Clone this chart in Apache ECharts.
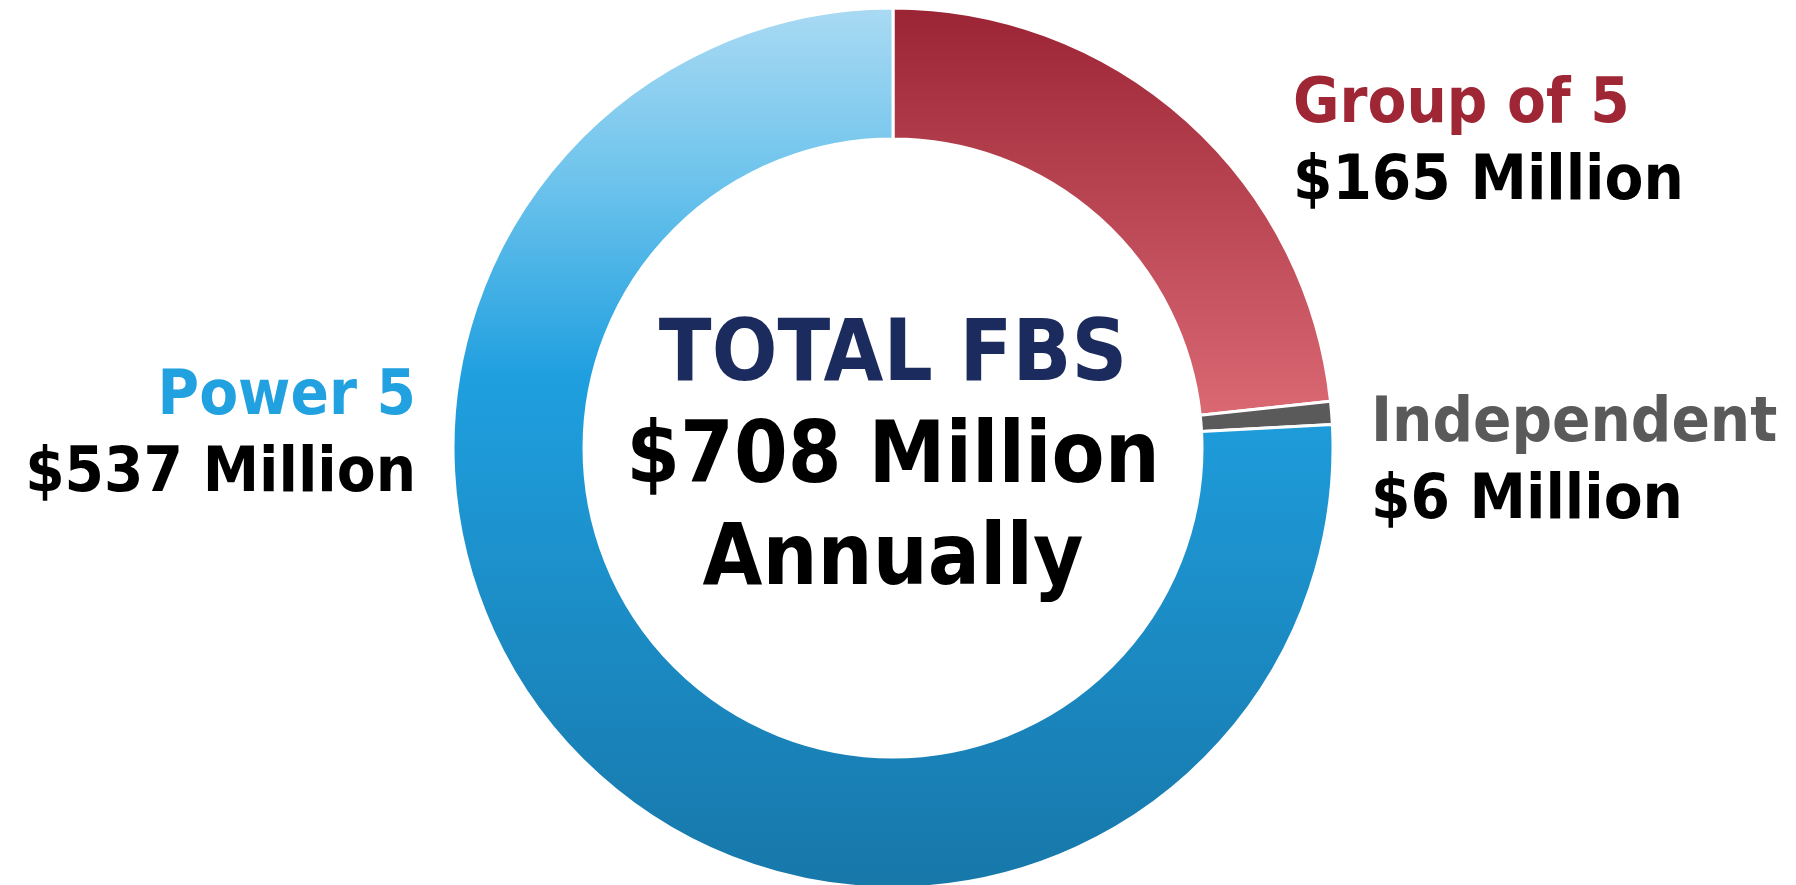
<!DOCTYPE html>
<html>
<head>
<meta charset="utf-8">
<script src="https://cdn.jsdelivr.net/npm/echarts@6/dist/echarts.min.js"></script>
<style>
html,body{margin:0;padding:0;background:#fff;}
#chart{width:1796px;height:885px;}
</style>
</head>
<body>
<div id="chart"></div>
<script>
// ---- Data ----
const categories = ['Group of 5', 'Independent', 'Power 5'];
const values = [165, 6, 537];           // $ Million annually
const totalLabel = 'TOTAL FBS';
const totalValue = 708;                  // $ Million annually
const totalSuffix = 'Annually';

// ---- Styles ----
const FONT = '"DejaVu Sans Condensed", "DejaVu Sans", sans-serif';
const sliceColors = [
  new echarts.graphic.LinearGradient(0, 0, 0, 1, [
    {offset: 0, color: '#9B2434'}, {offset: 1, color: '#DA6974'}
  ]),
  '#5A5A5A',
  new echarts.graphic.LinearGradient(0, 0, 0, 1, [
    {offset: 0, color: '#AADAF3'}, {offset: 0.2, color: '#6CC3EC'},
    {offset: 0.42, color: '#1F9FDF'}, {offset: 1, color: '#1777A9'}
  ])
];
const labelColors = ['#9E2635', '#5A5A5A', '#22A1E1'];
const labelPos = [
  {x: 1293, y: 106, align: 'left'},
  {x: 1371, y: 425, align: 'left'},
  {x: 416, y: 398, align: 'right'}
];

const chart = echarts.init(document.getElementById('chart'), null, {renderer: 'canvas'});

const graphics = [];
categories.forEach((name, i) => {
  const p = labelPos[i];
  graphics.push({
    type: 'text', x: p.x, y: p.y,
    style: {text: name, fill: labelColors[i], font: 'bold 63px ' + FONT,
            textAlign: p.align, textVerticalAlign: 'middle'}
  });
  graphics.push({
    type: 'text', x: p.x, y: p.y + 77,
    style: {text: '$' + values[i] + ' Million', fill: '#000', font: 'bold 63px ' + FONT,
            textAlign: p.align, textVerticalAlign: 'middle'}
  });
});
const centerLines = [
  {text: totalLabel, color: '#1C2B5E', y: 358},
  {text: '$' + totalValue + ' Million', color: '#000', y: 460},
  {text: totalSuffix, color: '#000', y: 562}
];
centerLines.forEach(l => {
  graphics.push({
    type: 'text', x: 893, y: l.y,
    style: {text: l.text, fill: l.color, font: 'bold 86px ' + FONT,
            textAlign: 'center', textVerticalAlign: 'middle'}
  });
});

chart.setOption({
  backgroundColor: '#fff',
  animation: false,
  series: [{
    type: 'pie',
    center: [893, 448],
    radius: [309, 440],
    startAngle: 90,
    clockwise: true,
    avoidLabelOverlap: false,
    label: {show: false},
    labelLine: {show: false},
    emphasis: {disabled: true},
    itemStyle: {borderColor: '#fff', borderWidth: 3},
    data: categories.map((name, i) => ({
      name: name, value: values[i], itemStyle: {color: sliceColors[i]}
    }))
  }],
  graphic: graphics
});
</script>
</body>
</html>
